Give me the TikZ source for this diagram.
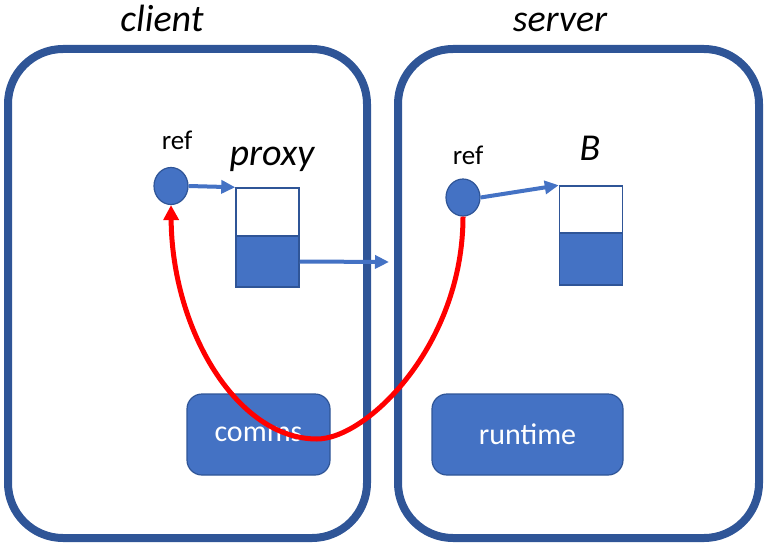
\documentclass[tikz,border=0pt]{standalone}
\usepackage{fontspec}
\setmainfont{Carlito}
\usetikzlibrary{shapes.geometric,arrows.meta}
\definecolor{frameblue}{HTML}{2F5597}
\definecolor{fillblue}{HTML}{4472C4}
\definecolor{edgeblue}{HTML}{2F5597}
\tikzset{
  host/.style={draw=frameblue,line width=8pt,rounded corners=55pt,inner sep=0pt},
  title/.style={anchor=base,font=\fontsize{38}{42}\selectfont\itshape,inner sep=0pt},
  reflabel/.style={anchor=base,font=\fontsize{27}{30}\selectfont,inner sep=0pt},
  refdot/.style={ellipse,draw=edgeblue,line width=1.2pt,fill=fillblue,inner sep=0pt,minimum width=34pt,minimum height=37pt},
  cellw/.style={draw=edgeblue,line width=1.5pt,fill=white,inner sep=0pt,minimum width=63pt},
  cellb/.style={draw=edgeblue,line width=1.5pt,fill=fillblue,inner sep=0pt,minimum width=63pt},
  module/.style={draw=edgeblue,line width=1.2pt,fill=fillblue,rounded corners=15pt,inner sep=0pt,minimum height=81pt,text=white,font=\fontsize{30}{33}\selectfont},
  ptr/.style={draw=fillblue,line width=4pt,-{Triangle[length=14pt,width=13pt]}},
  ret/.style={draw=red,line width=5pt,-{Triangle[length=15pt,width=15pt]}}
}
\begin{document}
\begin{tikzpicture}[x=1pt,y=-1pt]
\useasboundingbox (0,0) rectangle (765,543);
% hosts
\node[host,minimum width=359pt,minimum height=489pt] (client) at (187.5,293.5) {};
\node[host,minimum width=361pt,minimum height=489pt] (server) at (578.5,293.5) {};
\node[title] (clienttitle) at (162,32) {client};
\node[title] (servertitle) at (560,32) {server};
% client side
\node[refdot] (cref) at (171,186) {};
\node[reflabel] (creflabel) at (177,149) {ref};
\node[title] (proxylabel) at (272,165) {proxy};
\node[cellw,minimum height=48pt] (proxytop) at (267.5,212) {};
\node[cellb,minimum height=51pt] (proxybot) at (267.5,261.5) {};
\coordinate (proxyout) at (389,262);
% server side
\node[refdot] (sref) at (463,197.5) {};
\node[reflabel] (sreflabel) at (468,164) {ref};
\node[title] (blabel) at (590,160) {B};
\node[cellw,minimum height=47pt] (btop) at (591,209.5) {};
\node[cellb,minimum height=52pt] (bbot) at (591,259) {};
% modules
\node[module,minimum width=143pt] (comms) at (258.5,434.5) {comms};
\node[module,minimum width=191pt] (runtime) at (527.5,434.5) {runtime};
% connectors
\draw[ptr] (cref.east) -- (proxytop.north west);
\draw[ptr] (proxybot.east) -- (proxyout);
\draw[ptr] (sref.east) -- (btop.north west);
\coordinate (low) at (317,439);
\draw[ret] (sref.south) .. controls (463,345) and (367,439) .. (low)
  .. controls (237,439) and (172,330) .. (cref.south);
\end{tikzpicture}
\end{document}
